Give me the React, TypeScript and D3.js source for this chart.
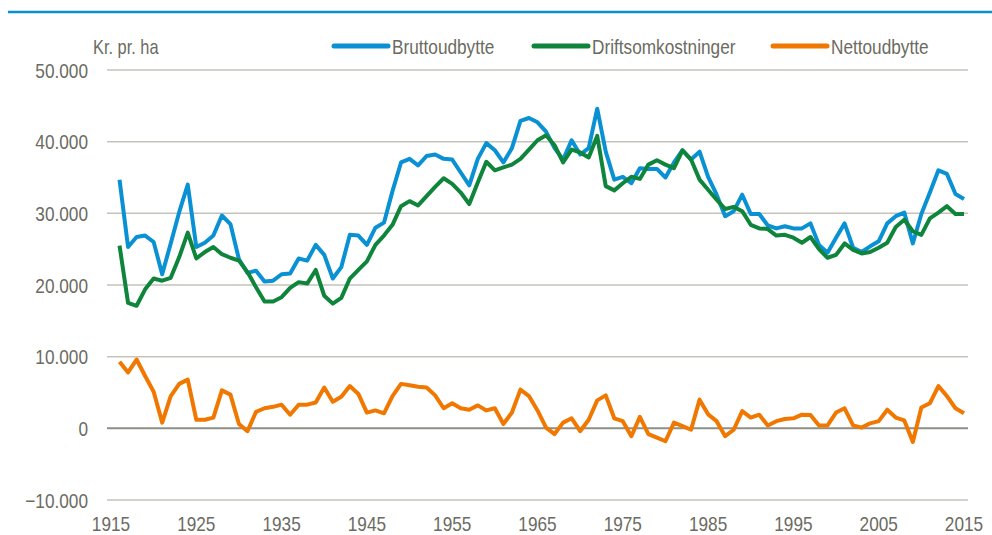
import * as d3 from "d3";

const years = d3.range(1916, 2016);

// kr. pr. ha (thousands)
const brutto = [
  34.7, 25.3, 26.7, 26.9, 26.0, 21.5, 25.8, 30.2, 34.0, 25.3,
  25.9, 26.9, 29.7, 28.5, 23.6, 21.7, 22.0, 20.5, 20.6, 21.5,
  21.6, 23.7, 23.4, 25.6, 24.2, 20.9, 22.5, 27.0, 26.9, 25.6,
  28.0, 28.7, 33.1, 37.1, 37.6, 36.7, 38.0, 38.2, 37.6, 37.5,
  35.7, 33.9, 37.6, 39.8, 38.8, 37.1, 39.1, 42.9, 43.3, 42.7,
  41.4, 39.1, 37.5, 40.2, 38.2, 39.1, 44.6, 38.6, 34.7, 35.1,
  34.2, 36.3, 36.2, 36.2, 35.0, 37.1, 38.8, 37.5, 38.6, 35.1,
  32.6, 29.6, 30.3, 32.6, 29.9, 29.9, 28.3, 27.9, 28.2, 27.9,
  27.9, 28.6, 25.6, 24.5, 26.6, 28.6, 25.2, 24.6, 25.4, 26.1,
  28.6, 29.6, 30.1, 25.8, 29.9, 32.9, 36.0, 35.5, 32.7, 32.0,
];

const drift = [
  25.5, 17.5, 17.1, 19.4, 20.9, 20.6, 21.0, 23.9, 27.3, 23.7,
  24.6, 25.3, 24.3, 23.8, 23.4, 21.8, 19.7, 17.7, 17.7, 18.3,
  19.6, 20.4, 20.2, 22.1, 18.5, 17.4, 18.2, 20.9, 22.1, 23.3,
  25.6, 26.9, 28.4, 31.0, 31.7, 31.1, 32.4, 33.7, 34.9, 34.1,
  32.9, 31.3, 34.3, 37.2, 36.0, 36.4, 36.8, 37.6, 38.9, 40.2,
  40.9, 39.5, 37.1, 38.9, 38.5, 37.8, 40.8, 33.8, 33.2, 34.2,
  35.1, 34.8, 36.8, 37.4, 36.8, 36.3, 38.8, 37.5, 34.7, 33.3,
  31.9, 30.6, 30.9, 30.3, 28.4, 27.9, 27.8, 26.9, 27.0, 26.6,
  25.9, 26.7, 25.0, 23.8, 24.2, 25.8, 24.9, 24.4, 24.6, 25.2,
  25.9, 28.1, 29.1, 27.5, 27.0, 29.3, 30.1, 31.0, 29.9, 29.9,
];

const netto = [
  9.3, 7.8, 9.6, 7.3, 5.1, 0.8, 4.5, 6.2, 6.8, 1.2,
  1.2, 1.5, 5.3, 4.7, 0.6, -0.4, 2.3, 2.8, 3.0, 3.3,
  1.9, 3.3, 3.3, 3.6, 5.7, 3.7, 4.4, 5.9, 4.8, 2.2,
  2.5, 2.1, 4.5, 6.2, 6.0, 5.8, 5.7, 4.6, 2.8, 3.5,
  2.8, 2.6, 3.2, 2.5, 2.8, 0.6, 2.2, 5.4, 4.5, 2.5,
  0.1, -0.8, 0.8, 1.4, -0.4, 1.2, 3.9, 4.6, 1.4, 1.0,
  -1.1, 1.6, -0.8, -1.3, -1.8, 0.8, 0.3, -0.2, 4.0, 1.95,
  1.0, -1.1, -0.2, 2.4, 1.5, 1.9, 0.4, 1.0, 1.3, 1.4,
  1.9, 1.85, 0.4, 0.4, 2.2, 2.8, 0.4, 0.1, 0.7, 1.0,
  2.6, 1.5, 1.1, -1.9, 2.9, 3.5, 5.9, 4.5, 2.8, 2.1,
];

const series = [
  { name: "Bruttoudbytte", values: brutto, color: "#0a91d3" },
  { name: "Driftsomkostninger", values: drift, color: "#0f843b" },
  { name: "Nettoudbytte", values: netto, color: "#f07800" },
];

const yTicks = [-10000, 0, 10000, 20000, 30000, 40000, 50000];
const xTicks = d3.range(1915, 2016, 10);

const W = 992;
const H = 535;
const font = "'Liberation Sans', Arial, sans-serif";
const textColor = "#6b6b62";

// narrow look: regular sans squeezed horizontally
function NText({ x, y, anchor = "start", size = 21, dy = "0", children }: any) {
  return (
    <text
      transform={`translate(${x},${y}) scale(0.82,1)`}
      dy={dy}
      textAnchor={anchor}
      fontSize={size}
      fill={textColor}
    >
      {children}
    </text>
  );
}

export default function App() {
  const x = d3.scaleLinear().domain([1915, 2015]).range([111, 964]);
  const y = d3.scaleLinear().domain([-10000, 50000]).range([500, 70]);
  const fmt = (v: number) => d3.format(",")(v).replace(/,/g, ".");

  const line = d3
    .line<number>()
    .x((_, i) => x(years[i]))
    .y((d) => y(d * 1000));

  const legendX = [334, 534, 773];

  return (
    <div style={{ position: "absolute", left: 0, top: 0 }}>
      <svg width={W} height={H} style={{ display: "block", fontFamily: font }}>
        <rect width={W} height={H} fill="#fff" />
        <line x1={8} x2={W} y1={12} y2={12} stroke="#0a8fd0" strokeWidth={2.5} />

        {yTicks.map((t) => (
          <g key={t}>
            <line
              x1={107}
              x2={968}
              y1={y(t)}
              y2={y(t)}
              stroke={t === 0 ? "#8e8e86" : "#c3c3bb"}
              strokeWidth={t === 0 ? 2 : 1.5}
            />
            <NText x={88} y={y(t)} dy="0.36em" anchor="end">
              {fmt(t)}
            </NText>
          </g>
        ))}

        {xTicks.map((t) => (
          <NText key={t} x={x(t)} y={531} anchor="middle">
            {t}
          </NText>
        ))}

        {series.map((s) => (
          <path
            key={s.name}
            d={line(s.values) ?? ""}
            fill="none"
            stroke={s.color}
            strokeWidth={4}
            strokeLinejoin="round"
          />
        ))}

        <NText x={93} y={54} size={20}>
          Kr. pr. ha
        </NText>

        {series.map((s, i) => (
          <g key={s.name} transform={`translate(${legendX[i]},46)`}>
            <line x1={0} x2={54} y1={0} y2={0} stroke={s.color} strokeWidth={5} strokeLinecap="round" />
            <NText x={58} y={0} dy="0.36em">
              {s.name}
            </NText>
          </g>
        ))}
      </svg>
    </div>
  );
}
